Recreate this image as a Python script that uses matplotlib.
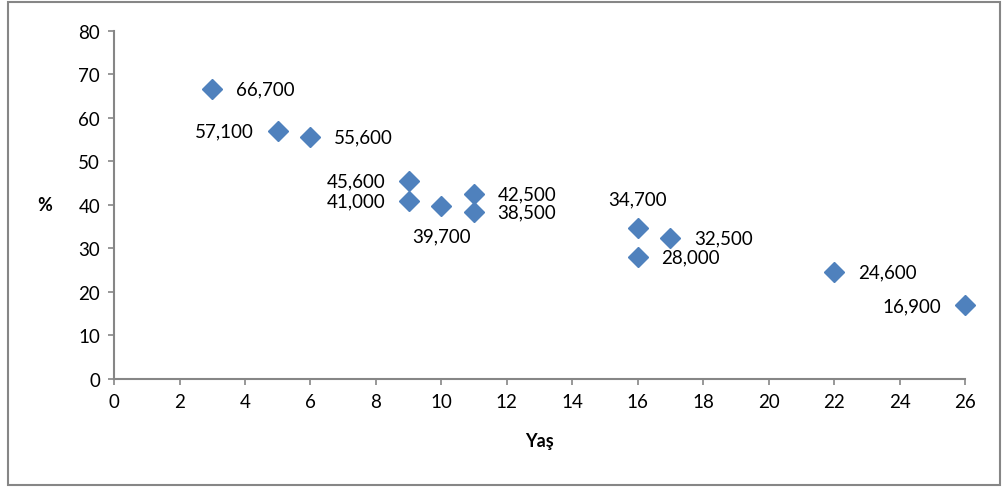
import matplotlib.pyplot as plt
from matplotlib.patches import Rectangle

plt.rcParams['font.family'] = ['Lato', 'DejaVu Sans']

# yaş ve yüzde değerleri
yas = [3, 5, 6, 9, 9, 10, 11, 11, 16, 16, 17, 22, 26]
yuzde = [66.7, 57.1, 55.6, 45.6, 41.0, 39.7, 42.5, 38.5, 34.7, 28.0, 32.5, 24.6, 16.9]
# etiketlerin yeri: r = sag, l = sol, a = ust, b = alt
konum = ['r', 'l', 'r', 'l', 'l', 'b', 'r', 'r', 'a', 'r', 'r', 'r', 'l']

x_ticks = list(range(0, 27, 2))
y_ticks = list(range(0, 81, 10))

renk = '#4F81BD'
gri = '#868686'

fig = plt.figure(figsize=(10.03, 4.89), dpi=100)
ax = fig.add_axes([0.1137, 0.2229, 0.8485, 0.7117])

ax.plot(yas, yuzde, linestyle='none', marker='D', markersize=10,
        color=renk, markeredgecolor=renk, clip_on=False)

kaydir = {'r': ((17, 0), 'left', 'center'),
          'l': ((-17, 0), 'right', 'center'),
          'a': ((0, 15), 'center', 'bottom'),
          'b': ((0, -15), 'center', 'top')}
for x, y, k in zip(yas, yuzde, konum):
    off, ha, va = kaydir[k]
    metin = ('%.3f' % y).replace('.', ',')
    ax.annotate(metin, (x, y), xytext=off, textcoords='offset points',
                ha=ha, va=va, fontsize=13.5, color='black')

ax.set_xlim(0, 26)
ax.set_ylim(0, 80)
ax.set_xticks(x_ticks)
ax.set_yticks(y_ticks)
ax.tick_params(direction='out', length=4, width=1.2, color=gri,
               labelsize=13.5, pad=6)

for s in ['top', 'right']:
    ax.spines[s].set_visible(False)
for s in ['left', 'bottom']:
    ax.spines[s].set_color(gri)
    ax.spines[s].set_linewidth(1.5)

ax.set_xlabel('Yaş', fontsize=13, fontweight='bold', labelpad=16)
ax.set_ylabel('%', fontsize=13, fontweight='bold', rotation=0, labelpad=24,
              va='center')

# çerçeve
fig.patches.append(Rectangle((0.008, 0.006), 0.989, 0.988, transform=fig.transFigure,
                             fill=False, edgecolor=gri, linewidth=1.5))

fig.savefig('out.png', dpi=100)
